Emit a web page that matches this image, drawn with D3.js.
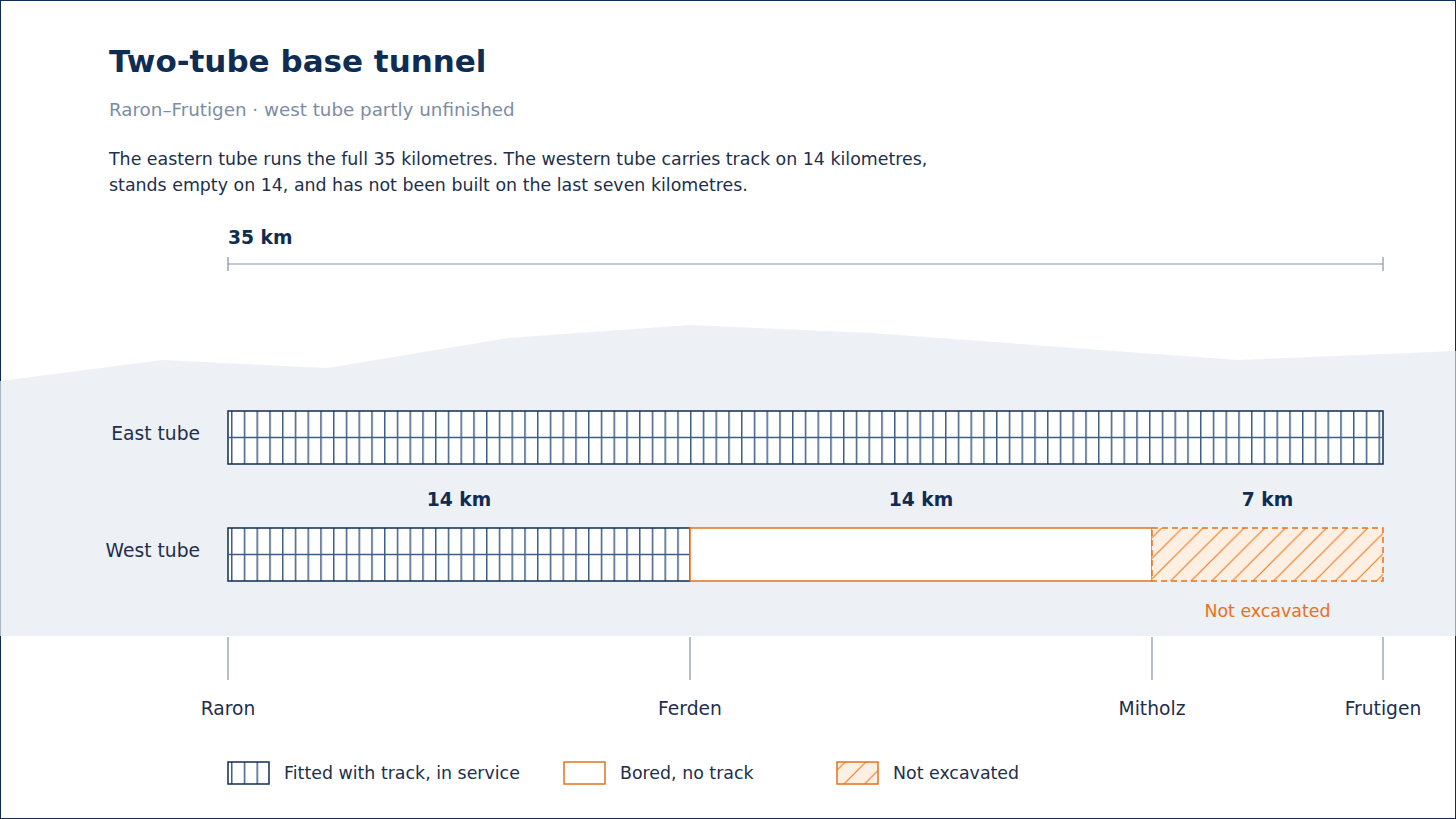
<!DOCTYPE html>
<html lang="en">
<head>
  <meta charset="UTF-8">
  <title>Two-tube base tunnel</title>
  <script src="https://d3js.org/d3.v7.min.js"></script>
  <style>
    body { margin: 0; background: #fff; }
    svg { display: block; font-family: "DejaVu Sans", sans-serif; }
  </style>
</head>
<body>
  <script>
    // Data
    const tubes = ["East tube", "West tube"];
    const eastSegments = [[0, 35, "track"]];
    const westSegments = [[0, 14, "track"], [14, 28, "bored"], [28, 35, "none"]];
    const stations = ["Raron", "Ferden", "Mitholz", "Frutigen"];
    const stationKm = [0, 14, 28, 35];
    const totalKm = 35;
    const legendKeys = ["track", "bored", "none"];
    const legendLabels = ["Fitted with track, in service", "Bored, no track", "Not excavated"];
    // mountain profile (km along the tunnel, elevation in m)
    const profileKm = [-6.9, -2, 3, 8.5, 14, 19.5, 30.6, 37.2];
    const profileElev = [2550, 2760, 2680, 2980, 3110, 3030, 2760, 2850];

    const width = 1456, height = 819;
    const navy = "#0f2d52", ink = "#1d2f4b", grey = "#8493a8", orange = "#e8711c";

    const svg = d3.select("body").append("svg")
      .attr("width", width)
      .attr("height", height);

    const x = d3.scaleLinear().domain([0, totalKm]).range([228, 1383]);
    const y = d3.scaleBand().domain(tubes).range([411, 581]).paddingInner(0.547).paddingOuter(0);
    const elev = d3.scaleLinear().domain([0, 3110]).range([636, 325]);

    // patterns
    const defs = svg.append("defs");
    const track = defs.append("pattern")
      .attr("id", "track")
      .attr("patternUnits", "userSpaceOnUse")
      .attr("x", x(0) + 3).attr("y", 0)
      .attr("width", 12.75).attr("height", 20);
    track.append("rect").attr("width", 12.75).attr("height", 20).attr("fill", "#fff");
    track.append("line")
      .attr("x1", 0.75).attr("x2", 0.75).attr("y1", 0).attr("y2", 20)
      .attr("stroke", "#3f5e83").attr("stroke-width", 1.5);

    const hatch = defs.append("pattern")
      .attr("id", "hatch")
      .attr("patternUnits", "userSpaceOnUse")
      .attr("x", 0.5).attr("y", 0)
      .attr("width", 20.6).attr("height", 20.6);
    hatch.append("rect").attr("width", 20.6).attr("height", 20.6).attr("fill", "#fdf0e3");
    hatch.append("path")
      .attr("d", "M0,20.6L20.6,0M-5,5L5,-5M15.6,25.6L25.6,15.6")
      .attr("stroke", "#ec7e28").attr("stroke-width", 1.2);

    const fills = { track: "url(#track)", bored: "#fff", none: "url(#hatch)" };
    const strokes = { track: navy, bored: orange, none: orange };
    const dashes = { track: null, bored: null, none: "6,4" };

    // border
    svg.append("rect")
      .attr("x", 0.5).attr("y", 0.5)
      .attr("width", width - 1).attr("height", height - 1)
      .attr("fill", "none").attr("stroke", navy);

    // titles
    svg.append("text").attr("x", 109).attr("y", 72)
      .attr("font-size", 31).attr("font-weight", "bold").attr("fill", navy)
      .text("Two-tube base tunnel");
    svg.append("text").attr("x", 109).attr("y", 116)
      .attr("font-size", 18.3).attr("fill", "#7b8da4")
      .text("Raron–Frutigen · west tube partly unfinished");
    const desc = [
      "The eastern tube runs the full 35 kilometres. The western tube carries track on 14 kilometres,",
      "stands empty on 14, and has not been built on the last seven kilometres."
    ];
    svg.append("g").selectAll("text").data(desc).join("text")
      .attr("x", 109).attr("y", (d, i) => 165 + i * 26)
      .attr("font-size", 17.4).attr("fill", ink)
      .text(d => d);

    // mountain
    const profile = profileKm.map((k, i) => [k, profileElev[i]]);
    svg.append("path")
      .datum(profile)
      .attr("d", d3.area().x(d => x(d[0])).y0(elev(0)).y1(d => elev(d[1])))
      .attr("fill", "#edf0f5");

    // total length scale bar
    const scaleY = 264;
    svg.append("text").attr("x", x(0)).attr("y", 244)
      .attr("font-size", 18.7).attr("font-weight", "bold").attr("fill", navy)
      .text(totalKm + " km");
    svg.append("line")
      .attr("x1", x(0)).attr("x2", x(totalKm)).attr("y1", scaleY).attr("y2", scaleY)
      .attr("stroke", grey).attr("stroke-width", 1.2);
    svg.append("g").selectAll("line").data([0, totalKm]).join("line")
      .attr("x1", d => x(d)).attr("x2", d => x(d))
      .attr("y1", scaleY - 7).attr("y2", scaleY + 7)
      .attr("stroke", grey).attr("stroke-width", 1.2);

    // tube labels
    svg.append("g").selectAll("text").data(tubes).join("text")
      .attr("x", 200).attr("y", d => y(d) + y.bandwidth() / 2 - 4)
      .attr("dy", "0.35em")
      .attr("text-anchor", "end")
      .attr("font-size", 18.7).attr("fill", ink)
      .text(d => d);

    // tube segments
    const drawTube = (name, segs) => {
      const g = svg.append("g");
      const top = y(name), h = y.bandwidth();
      segs.forEach(([a, b, status]) => {
        g.append("rect")
          .attr("x", x(a)).attr("y", top)
          .attr("width", x(b) - x(a)).attr("height", h)
          .attr("fill", fills[status])
          .attr("stroke", strokes[status])
          .attr("stroke-width", 1.5)
          .attr("stroke-dasharray", dashes[status]);
        if (status === "track") {
          g.append("line")
            .attr("x1", x(a)).attr("x2", x(b))
            .attr("y1", top + h / 2).attr("y2", top + h / 2)
            .attr("stroke", "#3f5e83").attr("stroke-width", 1.5);
        }
      });
      return g;
    };
    drawTube("East tube", eastSegments);
    drawTube("West tube", westSegments);

    // west segment lengths
    svg.append("g").selectAll("text").data(westSegments).join("text")
      .attr("x", d => x((d[0] + d[1]) / 2))
      .attr("y", y("West tube") - 22)
      .attr("text-anchor", "middle")
      .attr("font-size", 18.7).attr("font-weight", "bold").attr("fill", navy)
      .text(d => (d[1] - d[0]) + " km");

    // not excavated note
    const last = westSegments[westSegments.length - 1];
    svg.append("text")
      .attr("x", x((last[0] + last[1]) / 2))
      .attr("y", y("West tube") + y.bandwidth() + 36)
      .attr("text-anchor", "middle")
      .attr("font-size", 17.4).attr("fill", orange)
      .text("Not excavated");

    // stations
    svg.append("g").selectAll("line").data(stationKm).join("line")
      .attr("x1", d => x(d)).attr("x2", d => x(d))
      .attr("y1", elev(0) + 1).attr("y2", 680)
      .attr("stroke", grey).attr("stroke-width", 1.2);
    svg.append("g").selectAll("text").data(stations).join("text")
      .attr("x", (d, i) => x(stationKm[i]))
      .attr("y", 715)
      .attr("text-anchor", "middle")
      .attr("font-size", 18.7).attr("fill", ink)
      .text(d => d);

    // legend
    const legendX = [228, 564, 837];
    const lg = svg.append("g").selectAll("g").data(legendKeys).join("g");
    lg.append("rect")
      .attr("x", (d, i) => legendX[i]).attr("y", 762)
      .attr("width", 41).attr("height", 22)
      .attr("fill", d => fills[d])
      .attr("stroke", d => strokes[d])
      .attr("stroke-width", 1.5);
    lg.append("text")
      .attr("x", (d, i) => legendX[i] + 56).attr("y", 773)
      .attr("dy", "0.35em")
      .attr("font-size", 17.4).attr("fill", ink)
      .text((d, i) => legendLabels[i]);
  </script>
</body>
</html>
